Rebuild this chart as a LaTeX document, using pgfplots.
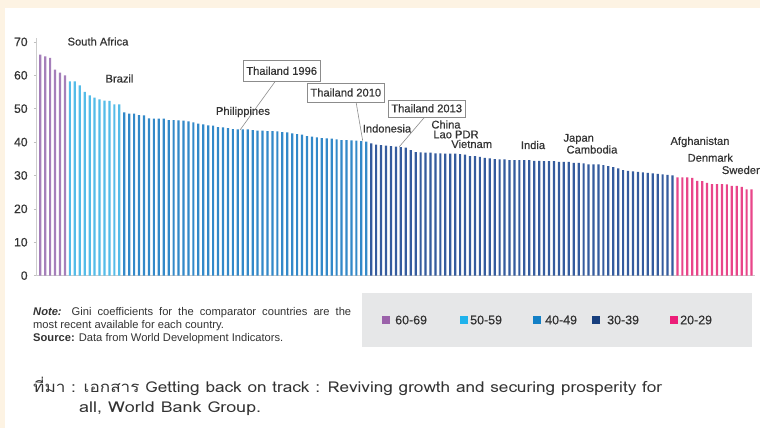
\documentclass[border=0pt]{standalone}
\usepackage{fontspec}
\setmainfont{Liberation Sans}
\newfontfamily\medfont{Liberation Sans}[FakeBold=0.4]
\newfontfamily\thaifont[Script=Thai]{Loma}
\usepackage{pgfplots}
\pgfplotsset{compat=1.18}
\usepackage{pgfplotstable}

\definecolor{bgcream}{HTML}{FDF3E3}
\definecolor{txt}{HTML}{333333}
\definecolor{panel}{HTML}{E6E7E8}
\definecolor{cPurple}{HTML}{9B62AA}
\definecolor{cLight}{HTML}{1FB3EC}
\definecolor{cMed}{HTML}{1380C6}
\definecolor{cDark}{HTML}{183F7E}
\definecolor{cPink}{HTML}{EC1E79}
\definecolor{bPurple}{HTML}{A57FBA}
\definecolor{bLight}{HTML}{55BCE8}
\definecolor{bMed}{HTML}{3389C9}
\definecolor{bDark}{HTML}{355C9E}
\definecolor{bPink}{HTML}{E9468A}

% Gini coefficients, one table per band
\pgfplotstableread{
x y
0 66.2
1 65.7
2 65.2
3 61.7
4 60.8
5 60.0
}\gPurple

\pgfplotstableread{
x y
6 58.2
7 58.2
8 57.0
9 55.0
10 54.0
11 53.3
12 52.8
13 52.4
14 52.3
15 51.3
16 51.3
}\gLight

\pgfplotstableread{
x y
17 48.9
18 48.5
19 48.5
20 48.1
21 48.0
22 47.1
23 47.0
24 47.0
25 47.0
26 46.6
27 46.6
28 46.5
29 46.4
30 46.2
31 45.9
32 45.5
33 45.3
34 45.0
35 44.9
36 44.5
37 44.4
38 44.2
39 43.9
40 43.8
41 43.8
42 43.8
43 43.6
44 43.4
45 43.4
46 43.3
47 43.3
48 43.2
49 43.0
50 42.9
51 42.6
52 42.4
53 42.2
54 41.8
55 41.6
56 41.4
57 41.2
58 41.1
59 41.0
60 40.8
61 40.6
62 40.6
63 40.5
64 40.4
65 40.3
66 40.1
}\gMed

\pgfplotstableread{
x y
67 39.6
68 39.2
69 39.1
70 38.9
71 38.8
72 38.6
73 38.5
74 38.3
75 37.6
76 37.0
77 36.9
78 36.8
79 36.8
80 36.6
81 36.6
82 36.5
83 36.5
84 36.5
85 36.4
86 36.2
87 35.8
88 35.8
89 35.6
90 35.3
91 35.1
92 34.9
93 34.8
94 34.8
95 34.6
96 34.6
97 34.6
98 34.6
99 34.6
100 34.4
101 34.4
102 34.3
103 34.3
104 34.3
105 34.1
106 34.1
107 34.1
108 33.8
109 33.8
110 33.6
111 33.3
112 33.3
113 33.3
114 33.1
115 32.8
116 32.5
117 32.1
118 31.6
119 31.4
120 31.2
121 31.1
122 30.9
123 30.8
124 30.6
125 30.5
126 30.3
127 30.2
128 30.0
}\gDark

\pgfplotstableread{
x y
129 29.4
130 29.4
131 29.4
132 29.3
133 28.4
134 28.3
135 27.8
136 27.4
137 27.4
138 27.4
139 27.3
140 26.9
141 26.9
142 26.6
143 25.8
144 25.8
}\gPink

\begin{document}
\begin{tikzpicture}
\useasboundingbox (0,0) rectangle (760bp,-428bp);
\fill[white] (0,0) rectangle (760bp,-428bp);
\fill[bgcream] (0,0) rectangle (760bp,-8bp);
\fill[bgcream] (0,0) rectangle (5bp,-428bp);

\begin{axis}[
    at={(36.8bp,-275.6bp)}, anchor=south west,
    scale only axis,
    width=718.2bp, height=233.7bp,
    xmin=-0.7, xmax=144.7,
    ymin=0, ymax=70,
    axis x line=bottom, axis y line=left,
    axis line style={-, draw=black!20, line width=1.2bp},
    xtick=\empty,
    ytick={0,10,...,70},
    tick align=outside,
    major tick length=3bp,
    tick style={draw=black!25, line width=0.6bp},
    yticklabel style={font=\medfont\fontsize{12.2}{13}\selectfont, text=txt, inner sep=0pt, xshift=-6bp},
    /pgf/number format/assume math mode=true,
    clip=false,
]
\addplot[ybar, bar width=2.2bp, bar shift=0pt, fill=bPurple, draw=none] table {\gPurple};
\addplot[ybar, bar width=2.2bp, bar shift=0pt, fill=bLight, draw=none] table {\gLight};
\addplot[ybar, bar width=2.2bp, bar shift=0pt, fill=bMed, draw=none] table {\gMed};
\addplot[ybar, bar width=2.2bp, bar shift=0pt, fill=bDark, draw=none] table {\gDark};
\addplot[ybar, bar width=2.2bp, bar shift=0pt, fill=bPink, draw=none] table {\gPink};
\end{axis}
\draw[black!20, line width=1.2bp] (36.8bp,-42bp) -- (36.8bp,-38bp);

\begin{scope}[x=1bp, y=-1bp, every node/.style={text=txt, font=\medfont\fontsize{11.2}{12}\selectfont, inner sep=0pt}]
  % country labels
  \node at (98,41.5) {South Africa};
  \node at (119.5,78.5) {Brazil};
  \node at (243,112) {Philippines};
  \node at (387,128.5) {Indonesia};
  \node at (446,124.5) {China};
  \node at (456,134.5) {Lao PDR};
  \node at (471.7,144) {Vietnam};
  \node at (533,145) {India};
  \node at (578.7,139) {Japan};
  \node at (592,149.5) {Cambodia};
  \node at (700,142) {Afghanistan};
  \node at (710.3,157.7) {Denmark};
  \begin{scope}
    \clip (700,160) rectangle (760,180);
    \node[anchor=west] at (721.7,170) {Sweden};
  \end{scope}
  % leader lines and boxed labels
  \draw[black!45, line width=0.6bp] (275,81.7) -- (240,130);
  \draw[black!45, line width=0.6bp] (356,101.7) -- (362.7,140.7);
  \draw[black!45, line width=0.6bp] (425,116.7) -- (399.3,146.7);
  \node[draw=black!45, fill=white, line width=0.6bp, minimum width=77bp, minimum height=20bp] at (281.7,70.8) {Thailand 1996};
  \node[draw=black!45, fill=white, line width=0.6bp, minimum width=77bp, minimum height=19bp] at (345.8,92.5) {Thailand 2010};
  \node[draw=black!45, fill=white, line width=0.6bp, minimum width=77bp, minimum height=17bp] at (426.7,108.3) {Thailand 2013};

  % note
  \begin{scope}[every node/.style={text=txt, font=\fontsize{11.2}{12}\selectfont, inner sep=0pt, anchor=base west}]
    \node at (33,315.5) {\makebox[318bp][s]{\textbf{\textit{Note:}} Gini coefficients for the comparator countries are the}};
    \node at (33,328.5) {most recent available for each country.};
    \node at (33,341.5) {\textbf{Source:} Data from World Development Indicators.};
  \end{scope}

  % legend panel
  \fill[panel] (362,293) rectangle (752,347);
  \fill[cPurple] (382,316) rectangle (390,324);
  \fill[cLight] (460,316) rectangle (468,324);
  \fill[cMed] (533,316) rectangle (541,324);
  \fill[cDark] (592,316) rectangle (600,324);
  \fill[cPink] (670,316) rectangle (678,324);
  \begin{scope}[every node/.style={text=txt, font=\medfont\fontsize{12.5}{14}\selectfont, inner sep=0pt, anchor=west}]
    \node at (395,320) {60-69};
    \node at (470,320) {50-59};
    \node at (545,320) {40-49};
    \node at (607,320) {30-39};
    \node at (680,320) {20-29};
  \end{scope}

  % source caption
  \begin{scope}[every node/.style={text=txt, font=\thaifont\fontsize{15}{17}\selectfont, inner sep=0pt, anchor=west}]
    \node at (33,386) {\resizebox{629bp}{\height}{ที่มา : เอกสาร Getting back on track : Reviving growth and securing prosperity for}};
    \node at (79,409) {\resizebox{182bp}{\height}{all, World Bank Group.}};
  \end{scope}
\end{scope}
\end{tikzpicture}
\end{document}
